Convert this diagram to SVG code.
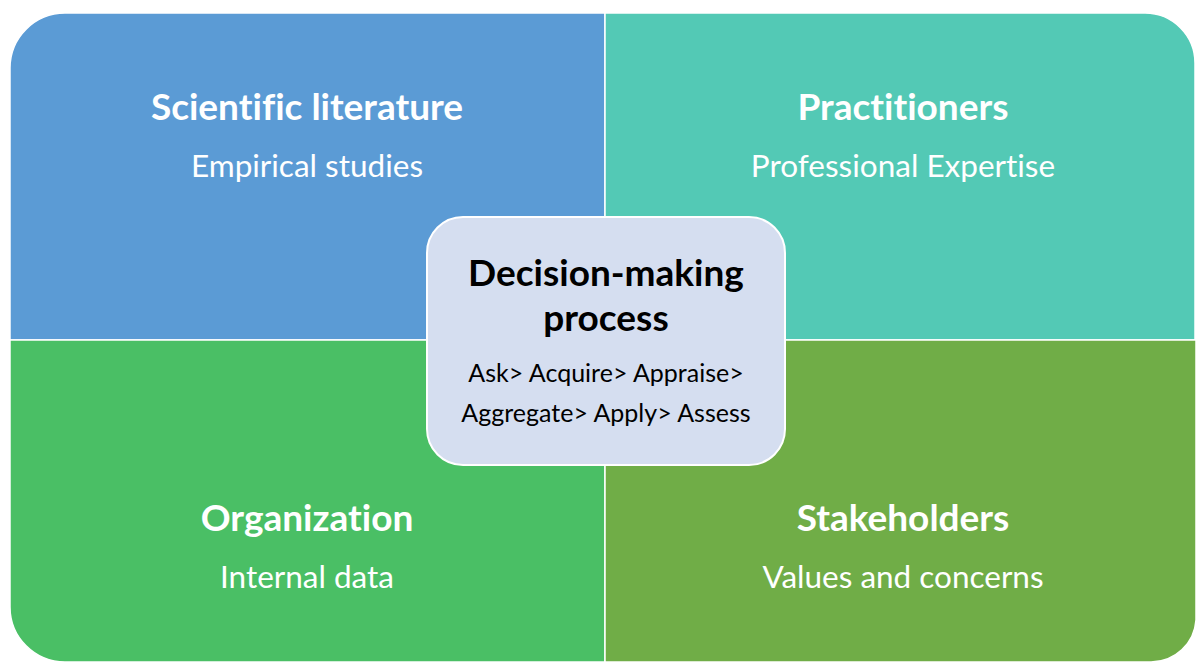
<svg xmlns="http://www.w3.org/2000/svg" width="1196" height="662" viewBox="0 0 1196 662">
<style>
text{font-family:Lato,"Open Sans","Liberation Sans",sans-serif;text-anchor:middle;font-variant-ligatures:none}
.q{stroke:#ffffff;stroke-width:1.5}
.t{font-weight:bold;font-size:37px;fill:#ffffff}
.s{font-size:31.5px;fill:#ffffff}
.ct{font-weight:bold;font-size:37px;fill:#000000}
.cs{font-size:25px;fill:#000000}
</style>
<rect width="1196" height="662" fill="#ffffff"/>
<g id="scientific-literature">
<path class="q" fill="#5B9BD5" d="M10,68 A55,55 0 0 1 65,13 H605 V340 H10 Z"/>
<text class="t" x="307" y="120">Scientific literature</text>
<text class="s" x="307" y="177">Empirical studies</text>
</g>
<g id="practitioners">
<path class="q" fill="#53C9B5" d="M605,13 H1145 A50,50 0 0 1 1195,63 V340 H605 Z"/>
<text class="t" x="903" y="120">Practitioners</text>
<text class="s" x="903" y="177">Professional Expertise</text>
</g>
<g id="organization">
<path class="q" fill="#4ABF65" d="M10,340 H605 V662 H65 A55,55 0 0 1 10,607 Z"/>
<text class="t" x="307" y="531">Organization</text>
<text class="s" x="307" y="588">Internal data</text>
</g>
<g id="stakeholders">
<path class="q" fill="#70AD47" d="M605,340 H1196 V620 A45,45 0 0 1 1151,662 H605 Z"/>
<text class="t" x="903" y="531">Stakeholders</text>
<text class="s" x="903" y="588">Values and concerns</text>
</g>
<g id="decision-making-process">
<rect x="427" y="217" width="358" height="248" rx="36" ry="36" fill="#D5DEF0" stroke="#ffffff" stroke-width="2"/>
<text class="ct" x="606" y="286">Decision-making</text>
<text class="ct" x="606" y="331">process</text>
<text class="cs" x="606" y="382">Ask&gt; Acquire&gt; Appraise&gt;</text>
<text class="cs" x="606" y="422">Aggregate&gt; Apply&gt; Assess</text>
</g>
</svg>
